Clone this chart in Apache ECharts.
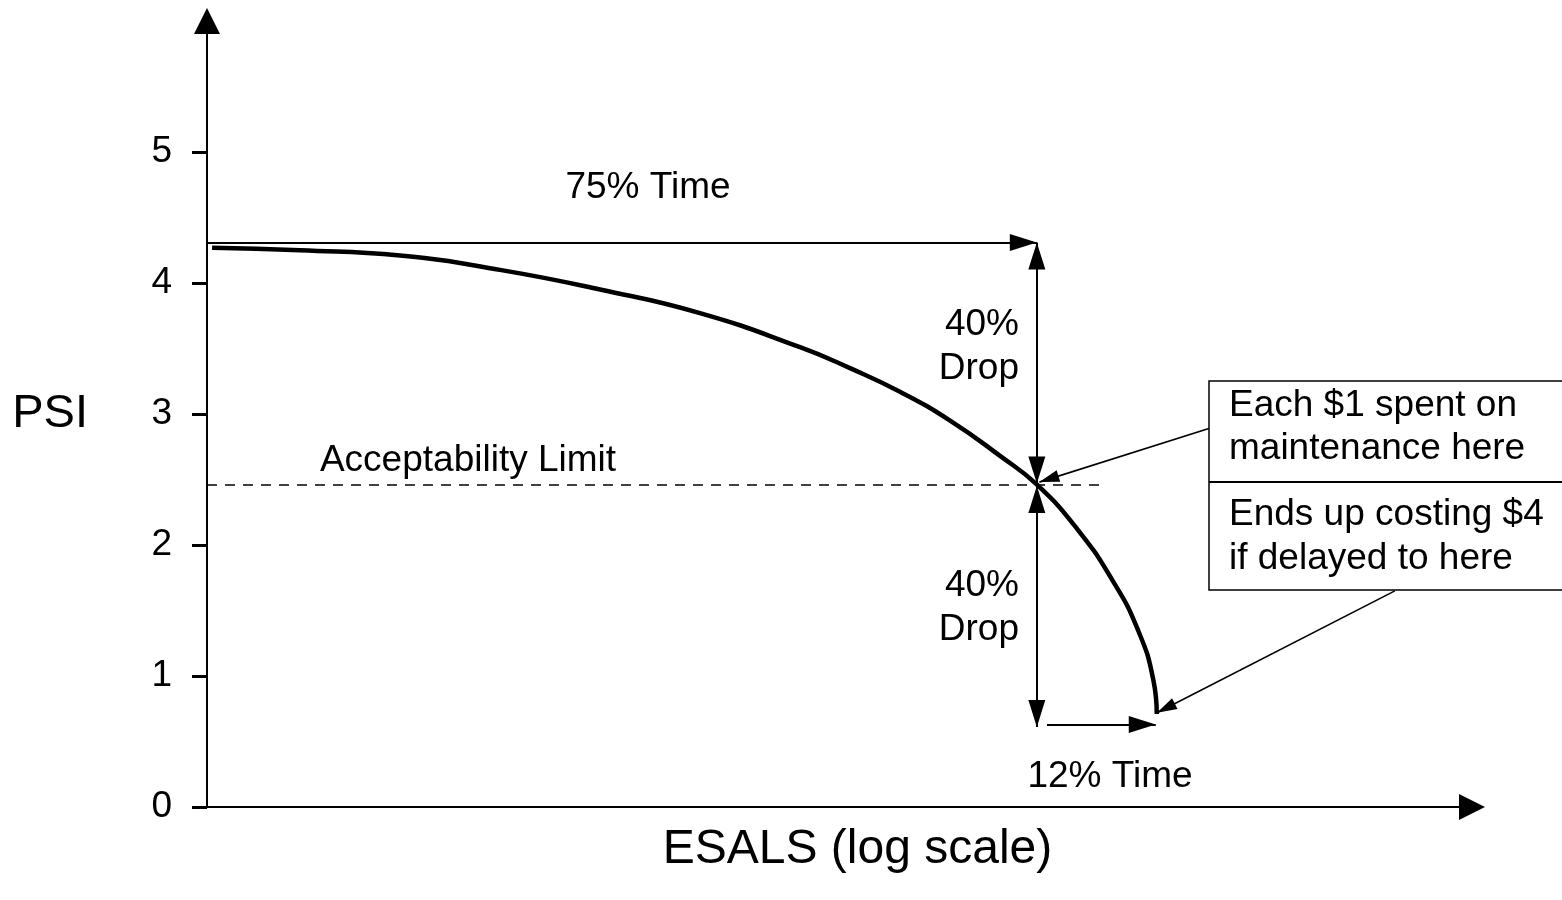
<!DOCTYPE html>
<html>
<head>
<meta charset="utf-8">
<script src="https://cdn.jsdelivr.net/npm/echarts@6/dist/echarts.min.js"></script>
<style>
  html, body { margin: 0; background: #fff; }
  #chart { width: 1562px; height: 900px; }
</style>
</head>
<body>
<div id="chart"></div>
<script>
/* PSI deterioration curve vs ESALs (log scale)
   x = position along the (unlabelled) log ESAL axis, 0..100
   y = PSI */
const FONT = '"Liberation Sans", Arial, sans-serif';

const curveX   = [0.4, 7.35, 15.26, 23.16, 31.07, 38.97, 46.88, 50.83, 54.78, 58.74, 62.69, 65.61, 68.81, 71.58, 73.60, 74.81, 75.08];
const curvePSI = [4.27, 4.25, 4.21, 4.10, 3.95, 3.77, 3.51, 3.35, 3.17, 2.95, 2.68, 2.46, 2.12, 1.73, 1.35, 0.97, 0.71];

const psiTicks = [0, 1, 2, 3, 4, 5];

// annotation segments, in axis units [x, psi]
const limitLine = [[0, 2.46], [70.6, 2.46]];
const time75    = [[0, 4.31], [65.6, 4.31]];
const drop1     = [[65.6, 4.31], [65.6, 2.47]];
const drop2     = [[65.6, 2.45], [65.6, 0.61]];
const time12    = [[66.4, 0.63], [75.0, 0.63]];
const leader1   = [[79.2, 2.89], [65.8, 2.48]];
const leader2   = [[93.9, 1.65], [75.1, 0.72]];

const chart = echarts.init(document.getElementById("chart"), null, { renderer: "canvas" });

// one markLine pair; arrowheads pulled back so the tip sits on the point
function seg(seg, fromArrow, toArrow, size) {
  const s = size || [17, 27];
  const end = a => a
    ? { symbol: "triangle", symbolSize: s, symbolOffset: [0, s[1] / 2] }
    : { symbol: "none" };
  return [
    Object.assign({ coord: seg[0] }, end(fromArrow)),
    Object.assign({ coord: seg[1] }, end(toArrow))
  ];
}

function markSeries(name, lines, lineStyle) {
  return {
    name,
    type: "line",
    data: [],
    silent: true,
    markLine: {
      silent: true,
      animation: false,
      label: { show: false },
      emphasis: { disabled: true },
      lineStyle: Object.assign({ color: "#000", type: "solid", width: 2 }, lineStyle),
      itemStyle: { color: "#000" },
      data: lines
    }
  };
}

function txt(text, x, y, align, lh) {
  return {
    type: "text",
    x, y, z: 20,
    style: {
      text,
      fill: "#000",
      font: "37px " + FONT,
      align: align || "center",
      verticalAlign: "middle",
      lineHeight: lh || 44
    }
  };
}

chart.setOption({
  animation: false,
  backgroundColor: "#fff",
  grid: { left: 207, right: 90, top: 21, bottom: 93, containLabel: false, outerBoundsMode: "none" },

  xAxis: {
    type: "value",
    min: 0,
    max: 100,
    name: "ESALS (log scale)",
    nameLocation: "middle",
    nameGap: 19,
    nameTextStyle: { fontSize: 48, color: "#000", fontFamily: FONT, padding: [0, 0, 0, 36] },
    axisLine: {
      onZero: false,
      symbol: ["none", "triangle"],
      symbolSize: [26, 26],
      lineStyle: { color: "#000", width: 2 }
    },
    axisTick: { show: false },
    axisLabel: { show: false },
    splitLine: { show: false }
  },

  yAxis: {
    type: "value",
    min: 0,
    max: 6,
    interval: 1,
    name: "PSI",
    nameLocation: "middle",
    nameRotate: 0,
    nameGap: 119,
    nameTextStyle: { fontSize: 47, color: "#000", fontFamily: FONT },
    axisLine: {
      show: true,
      symbol: ["none", "triangle"],
      symbolSize: [26, 26],
      lineStyle: { color: "#000", width: 2 }
    },
    axisTick: {
      show: true,
      length: 15,
      customValues: psiTicks,
      lineStyle: { color: "#000", width: 3 }
    },
    axisLabel: {
      customValues: psiTicks,
      margin: 35,
      fontSize: 37,
      color: "#000",
      fontFamily: FONT
    },
    splitLine: { show: false }
  },

  series: [
    markSeries("limit", [seg(limitLine, false, false)], { type: [10, 8], width: 1.6 }),
    markSeries("arrows", [
      seg(time75, false, true),
      seg(drop1, true, true),
      seg(drop2, true, true),
      seg(time12, false, true)
    ], { width: 2 }),
    markSeries("leaders", [
      seg(leader1, false, true, [12, 20]),
      seg(leader2, false, true, [12, 20])
    ], { width: 1.6 }),
    {
      name: "PSI",
      type: "line",
      data: curveX.map((x, i) => [x, curvePSI[i]]),
      smooth: 0.5,
      showSymbol: false,
      silent: true,
      z: 5,
      lineStyle: { color: "#000", width: 4.5 }
    }
  ],

  graphic: [
    txt("75% Time", 648, 188),
    txt("40%\nDrop", 1019, 347, "right"),
    txt("40%\nDrop", 1019, 608, "right"),
    txt("12% Time", 1110, 777),
    txt("Acceptability Limit", 468, 461),
    {
      type: "rect",
      z: 15,
      shape: { x: 1209, y: 381, width: 400, height: 209 },
      style: { fill: "#fff", stroke: "#000", lineWidth: 1.5 }
    },
    {
      type: "line",
      z: 16,
      shape: { x1: 1209, y1: 482, x2: 1562, y2: 482 },
      style: { stroke: "#000", lineWidth: 2 }
    },
    txt("Each $1 spent on\nmaintenance here", 1229, 427, "left", 43),
    txt("Ends up costing $4\nif delayed to here", 1229, 537, "left", 44)
  ]
});
</script>
</body>
</html>
